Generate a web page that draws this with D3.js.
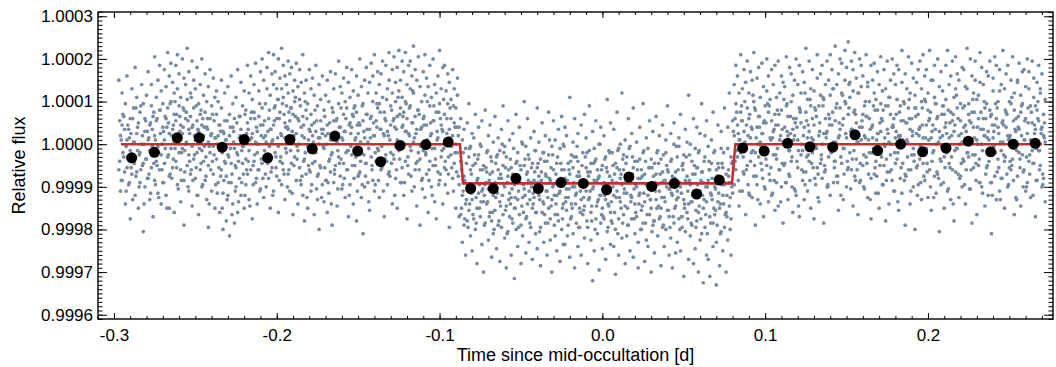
<!DOCTYPE html>
<html>
<head>
<meta charset="utf-8">
<script src="https://cdn.jsdelivr.net/npm/d3@7"></script>
<style>
  body { margin: 0; background: #fff; }
  svg text { font-family: "Liberation Sans", Arial, Helvetica, sans-serif; fill: #000; }
</style>
</head>
<body>
<div id="chart"></div>
<script>
// Tick labels
var xTicks = [-0.3, -0.2, -0.1, 0.0, 0.1, 0.2];
var yTicks = [0.9996, 0.9997, 0.9998, 0.9999, 1.0000, 1.0001, 1.0002, 1.0003];

// Binned light curve (time in days, relative flux)
var binTime = [-0.2891, -0.2752, -0.2611, -0.2476, -0.2335, -0.2200, -0.2056, -0.1919, -0.1782, -0.1643,
    -0.1503, -0.1362, -0.1243, -0.1084, -0.0947, -0.0809, -0.0670, -0.0531, -0.0394, -0.0254,
    -0.0117, 0.0026, 0.0163, 0.0303, 0.0442, 0.0579, 0.0718, 0.0862, 0.0994, 0.1138,
    0.1275, 0.1415, 0.1552, 0.1691, 0.1832, 0.1967, 0.2111, 0.2248, 0.2385, 0.2524, 0.2659];
var binFlux = [0.999968, 0.999981, 1.000015, 1.000015, 0.999993, 1.000011, 0.999968, 1.000011, 0.999989, 1.000019,
    0.999984, 0.999959, 0.999997, 0.999999, 1.000005, 0.999896, 0.999896, 0.999920, 0.999896, 0.999910,
    0.999908, 0.999893, 0.999923, 0.999901, 0.999908, 0.999883, 0.999916, 0.999991, 0.999984, 1.000002,
    0.999994, 0.999993, 1.000022, 0.999985, 1.000000, 0.999982, 0.999991, 1.000007, 0.999982, 1.000000, 1.000002];

// Occultation model (box with short ingress / egress)
var modelTime = [-0.2957, -0.0875, -0.0856, 0.0796, 0.0817, 0.2700];
var modelFlux = [1.0, 1.0, 0.999908, 0.999908, 1.0, 1.0];

// Unbinned photometry: each row = [time in 0.001 d, flux offsets in ppm ...]
var rawRows = [
[-297,150,-60],[-296,20,-110],[-295,120,45,-85],[-294,-30,65],[-293,95,-140],[-292,10,-55,160],[-291,-95,35],[-290,60,-15,-175],[-289,130,-70],[-288,-40,5,85],
[-287,180,-120],[-286,25,-65,110],[-285,-150,50],[-284,75,-20,-90],[-283,140,0],[-282,-45,95,-205],[-281,30,-100,60],[-280,115,-35],[-279,-80,170,10],[-278,45,-130,-15],
[-277,90,-55,140],[-276,-10,65,-170],[-275,205,-85,20],[-274,-40,110,55],[-273,150,-115,-5],[-272,80,-60,185],[-271,-25,125,-140],[-270,40,-90,95],[-269,175,10,-45],[-268,-120,60,135],
[-267,215,-30,85],[-266,25,-75,160,-150],[-265,100,-10,190],[-264,-55,145,35],[-263,70,-160,120,5],[-262,185,-40,55],[-261,130,-95,15,210],[-260,-20,90,165],[-259,45,-135,110,-60],[-258,200,25,-10],
[-257,80,155,-85,-190],[-256,140,0,60],[-255,-50,225,105],[-254,35,-110,170,-25],[-253,120,65,-70],[-252,-5,195,-145,40],[-251,150,85,-35],[-250,10,-80,130],[-249,180,-20,55,-120],[-248,95,-165,30],
[-247,-60,140,70],[-246,200,-15,-100,45],[-245,115,20,-40],[-244,-85,165,75],[-243,40,-130,100],[-242,135,-50,5,-195],[-241,60,175,-20],[-240,-110,90,25],[-239,155,-70,-5],[-238,15,110,-150],
[-237,-35,70,125],[-236,100,-90,20],[-235,-160,45,-15],[-234,85,-60,150],[-233,-115,30,-200],[-232,55,-40,120],[-231,-180,-75,10],[-230,135,-25,-120],[-229,20,-215,70],[-228,-90,160,-45],
[-227,40,-140,95],[-226,-185,-10,60],[-225,110,-55,-100],[-224,-25,175,-160],[-223,65,-80,15],[-222,145,-120,35],[-221,-45,90,-5],[-220,10,-150,125],[-219,80,-35,-95],[-218,185,50,-70],
[-217,-15,120,-130],[-216,60,-60,160],[-215,105,-175,25],[-214,-40,75,140],[-213,190,-90,5],[-212,30,-20,-140],[-211,125,65,-60],[-210,-105,170,45],[-209,85,-45,200],[-208,150,-125,15],
[-207,20,95,-70],[-206,180,-30,130],[-205,-80,60,215],[-204,115,-150,35],[-203,165,5,-55],[-202,45,140,-110,210],[-201,-20,90,170],[-200,130,-75,60],[-199,200,-5,105,-160],[-198,75,155,-40],
[-197,225,20,-95,130],[-196,110,-60,185],[-195,50,160,-130,15],[-194,140,-20,90],[-193,-70,195,35,120],[-192,165,-110,55],[-191,85,10,-45,180],[-190,125,-165,70],[-189,-30,150,100],[-188,190,25,-85],
[-187,60,-140,135,-15],[-186,105,175,-55],[-185,-95,40,145],[-184,210,65,-120],[-183,15,120,-35,-180],[-182,150,-70,80],[-181,-5,95,-150],[-180,175,35,-60],[-179,70,-110,130],[-178,-45,155,20],
[-177,115,-165,50],[-176,30,-20,185],[-175,-130,90,-75],[-174,140,0,-200],[-173,55,-55,105],[-172,-95,160,25],[-171,80,-135,-10],[-170,20,115,-85],[-169,-160,45,150],[-168,100,-40,-115],
[-167,170,10,-65],[-166,-20,85,-190],[-165,130,-90,55],[-164,-50,25,165],[-163,60,-145,5],[-162,195,-30,95],[-161,-75,135,40],[-160,15,-105,120],[-159,155,70,-45],[-158,-125,30,100],
[-157,85,-60,180],[-156,-15,145,-170],[-155,110,-95,50],[-154,40,175,-25],[-153,-140,65,125],[-152,90,-50,10],[-151,160,-180,75],[-150,25,115,-75],[-149,-65,200,45],[-148,135,-20,-125],
[-147,55,95,-210],[-146,-100,150,15],[-145,180,-45,70],[-144,5,120,-90],[-143,145,-155,35],[-142,65,190,-30],[-141,-85,100,160],[-140,210,20,-110],[-139,120,-40,55],[-138,-10,170,85],
[-137,95,-125,140],[-136,165,35,-60],[-135,-50,110,195],[-134,75,-170,20],[-133,185,55,-25],[-132,30,130,-95],[-131,150,-65,215],[-130,-20,90,45],[-129,120,-140,175],[-128,60,205,-35],
[-127,145,-80,100],[-126,10,180,65,-150],[-125,220,-15,125],[-124,85,150,-90],[-123,-55,195,40,110],[-122,170,-120,75],[-121,100,30,-40,215],[-120,140,-175,60],[-119,25,185,-70],[-118,195,90,-5,130],
[-117,-110,160,50],[-116,120,5,230],[-115,65,-60,175],[-114,150,-145,35],[-113,205,80,-20],[-112,-35,135,-190],[-111,100,40,-85],[-110,170,-15,60],[-109,-125,115,210],[-108,45,-70,155],
[-107,135,0,-160],[-106,-40,90,185],[-105,110,-100,25],[-104,200,55,-50],[-103,-10,140,-135],[-102,75,-175,120],[-101,160,15,-65],[-100,-85,95,220],[-99,130,-30,45],[-98,30,-140,180],
[-97,185,70,-55],[-96,-60,125,10],[-95,95,-115,165],[-94,145,35,-195],[-93,-25,105,60],[-92,175,-80,20],[-91,50,-45,130],[-90,-150,85,0],[-89,115,-20,155],[-88,40,-95,-170],
[-87,-40,-165,60],[-86,-120,10,-230],[-85,-75,-190,35],[-84,-10,-140,-260],[-83,-95,50,-180],[-82,-155,-30,95],[-81,-60,-215,-5],[-80,-130,25,-250],[-79,15,-100,-175],[-78,-200,-45,70],
[-77,-85,-150,-280],[-76,-25,-115,40],[-75,-170,0,-60],[-74,-110,-235,55],[-73,-50,-135,-300],[-72,80,-95,-185],[-71,-140,-20,-65],[-70,-225,-105,20],[-69,-70,45,-160],[-68,-180,-40,-265],
[-67,5,-120,-210],[-66,-90,65,-155],[-65,-245,-30,-110],[-64,-60,-190,15],[-63,-135,-275,-15],[-62,35,-80,-195],[-61,-165,-50,90],[-60,-100,-220,-5],[-59,-30,-145,-290],[-58,-205,-75,55],
[-57,-115,10,-170],[-56,-55,-260,-125],[-55,25,-185,-70],[-54,-150,-95,-315],[-53,-45,70,-200],[-52,-130,-240,-20],[-51,-80,40,-165],[-50,-190,-60,-280],[-49,0,-125,-215],[-48,-105,100,-50],
[-47,-175,-5,-255],[-46,-65,-140,60],[-45,-230,-35,-110],[-44,15,-90,-195],[-43,-150,-270,-45],[-42,-85,30,-125],[-41,-210,-15,-160],[-40,-55,-245,85],[-39,-120,-75,5],[-38,-195,-35,-285],
[-37,50,-100,-160],[-36,-140,-230,-20],[-35,-70,20,-185],[-34,-260,-110,-40],[-33,-25,-150,75],[-32,-175,-85,-225],[-31,-5,-130,-300],[-30,-95,55,-60],[-29,-215,-165,10],[-28,-45,-120,-250],
[-27,-180,35,-90],[-26,-110,-275,-10],[-25,-60,-200,65],[-24,-140,0,-235],[-23,-235,-80,40],[-22,20,-155,-105],[-21,-125,-45,-190],[-20,-70,-265,110],[-19,-170,-25,-140],[-18,5,-210,-55],
[-17,-100,60,-290],[-16,-185,-115,-30],[-15,-40,-240,25],[-14,-150,-75,-195],[-13,45,-130,-260],[-12,-90,-20,-165],[-11,-220,-145,70],[-10,-55,15,-110],[-9,-195,-280,-65],[-8,-15,-125,90],
[-7,-160,-45,-225],[-6,-105,30,-320],[-5,-250,-85,-10],[-4,-35,-175,55],[-3,-135,-60,-210],[-2,-75,-295,0],[-1,-185,40,-120],[0,-50,-150,-245],[1,20,-90,-175],[2,-130,-270,-30],
[3,-205,-65,105],[4,-15,-145,-100],[5,-160,50,-235],[6,-85,-20,-185],[7,-240,-120,35],[8,-45,-200,-305],[9,-110,75,-55],[10,-175,-10,-260],[11,0,-135,-80],[12,-220,-95,120],
[13,-60,-165,-25],[14,-145,10,-280],[15,-30,-215,-115],[16,-190,60,-70],[17,-90,-250,-5],[18,-125,25,-175],[19,-265,-55,85],[20,-40,-140,-210],[21,-170,5,-100],[22,-80,-230,-290],
[23,40,-115,-35],[24,-200,-60,-155],[25,-20,-185,95],[26,-135,-275,-70],[27,-95,15,-225],[28,-240,-120,-10],[29,-55,-165,55],[30,-150,-35,-300],[31,30,-105,-190],[32,-180,-255,-45],
[33,-70,65,-130],[34,-215,-15,-95],[35,-110,-175,20],[36,-35,-285,-150],[37,-195,45,-65],[38,-85,-125,-240],[39,10,-200,-20],[40,-155,-60,90],[41,-260,-105,-170],[42,-40,25,-220],
[43,-120,-290,-75],[44,-185,0,50],[45,-65,-145,-255],[46,-230,-30,-110],[47,15,-175,-5],[48,-100,-250,70],[49,-170,-50,-195],[50,-25,-130,-310],[51,-205,35,-85],[52,-75,-160,5],
[53,-140,-270,115],[54,0,-95,-215],[55,-190,-40,-135],[56,-115,60,-280],[57,-245,-10,-70],[58,-55,-180,40],[59,-160,-300,-20],[60,25,-110,-225],[61,-210,-65,95],[62,-90,-325,-150],
[63,-30,-195,20],[64,-135,55,-260],[65,-270,-85,-5],[66,-60,-170,-310],[67,10,-120,-45],[68,-185,-240,75],[69,-100,-15,-165],[70,-230,-60,-330],[71,-45,45,-135],[72,-150,-285,-80],
[73,30,-205,-10],[74,-120,-55,-250],[75,-195,85,-95],[76,-70,-160,-300],[77,-10,-225,40],[78,-145,-90,120],[79,-260,-30,-175],[80,55,-115,-40],
[81,20,140,-95],[82,95,-60,185],[83,-30,160,45],[84,120,-145,10],[85,210,-20,75],[86,55,130,-110],[87,-70,175,30],[88,145,-5,-165],[89,85,195,-50],[90,-115,60,120],
[91,170,-40,15],[92,35,-125,150],[93,100,215,-75],[94,-20,80,-190],[95,155,-95,40],[96,65,180,-30],[97,-140,110,5],[98,190,25,-60],[99,50,-170,135],[100,-10,90,-105],
[101,125,-50,200],[102,75,160,-135],[103,-85,15,105],[104,175,-120,55],[105,30,140,-25],[106,-155,70,185],[107,110,-35,-90],[108,45,195,-145],[109,-60,120,10],[110,160,-100,80],
[111,5,-185,145],[112,135,40,-45],[113,-90,205,90],[114,65,-130,20],[115,180,-15,-75],[116,-40,100,165],[117,115,-160,35],[118,20,150,-105],[119,-120,60,200],[120,140,-55,10],
[121,85,185,-170],[122,-25,120,50],[123,170,-85,-15],[124,40,145,-130],[125,-65,225,75],[126,105,-110,15],[127,195,30,-40],[128,-150,130,90],[129,60,-20,175],[130,125,-175,45],
[131,-5,80,-95],[132,155,210,-55],[133,90,-135,20],[134,-45,165,115],[135,185,0,-80],[136,25,105,-185],[137,140,-60,60],[138,-100,195,30],[139,70,-30,150],[140,210,115,-120],
[141,-15,175,45],[142,130,-90,5],[143,55,230,-40],[144,-75,140,95],[145,165,-155,15],[146,35,85,200],[147,190,-45,120],[148,-130,60,-10],[149,100,220,150],[150,15,-100,180],
[151,240,70,-55],[152,145,-20,110],[153,-60,195,35],[154,175,125,-145],[155,80,-75,215],[156,-35,155,50],[157,120,-165,5],[158,200,40,-90],[159,10,135,185],[160,160,-50,70],
[161,-105,90,20],[162,65,210,-30],[163,135,-125,145],[164,-20,60,100],[165,185,-80,-175],[166,45,150,15],[167,-70,120,190],[168,105,-40,-115],[169,170,25,80],[170,-150,140,-20],
[171,30,95,205],[172,125,-95,55],[173,-50,175,0],[174,90,-180,130],[175,195,35,-65],[176,5,110,-140],[177,150,-25,70],[178,-85,200,40],[179,60,-110,165],[180,140,15,-45],
[181,-35,185,105],[182,175,-155,20],[183,20,90,-80],[184,-115,145,220],[185,100,-5,55],[186,165,-70,-190],[187,50,130,10],[188,-60,205,85],[189,120,-140,35],[190,190,60,-25],
[191,-10,155,-100],[192,85,-200,115],[193,145,25,-55],[194,-95,175,70],[195,40,-35,195],[196,130,100,-130],[197,-45,210,15],[198,105,-85,160],[199,175,45,-10],[200,-125,120,80],
[201,60,-60,220],[202,15,150,-155],[203,150,-20,45],[204,-75,185,110],[205,95,-115,0],[206,200,65,-70],[207,30,135,-205],[208,-40,-95,170],[209,125,20,90],[210,70,-150,-30],
[211,185,105,50],[212,-15,220,-110],[213,140,-45,15],[214,-130,75,160],[215,55,195,-60],[216,110,-180,30],[217,-65,130,205],[218,165,-10,85],[219,20,150,-125],[220,95,-75,55],
[221,-100,180,5],[222,175,40,-40],[223,45,-140,135],[224,130,225,-20],[225,-30,95,70],[226,200,-105,10],[227,75,160,-185],[228,-55,120,40],[229,150,-25,195],[230,10,-165,105],
[231,115,60,-50],[232,-90,215,145],[233,180,0,-100],[234,35,140,60],[235,-145,85,20],[236,95,-55,170],[237,160,30,-120],[238,-20,195,80],[239,70,-90,-210],[240,125,155,15],
[241,-75,45,205],[242,185,-130,60],[243,40,100,-35],[244,-110,175,125],[245,140,-15,-80],[246,55,220,5],[247,-40,130,-150],[248,165,75,40],[249,20,-100,185],[250,100,15,-55],
[251,-60,150,95],[252,205,-35,0],[253,80,120,-165],[254,-125,60,30],[255,150,-75,145],[256,35,190,-20],[257,115,-145,75],[258,-25,95,170],[259,175,-60,10],[260,60,135,-110],
[261,-90,25,200],[262,130,170,-40],[263,10,-125,90],[264,195,50,-15],[265,-45,110,155],[266,90,-170,35],[267,145,80,-85],[268,-15,185,55],[269,120,-50,130],[270,40,165,-100],
[271,-80,20,70],[272,105,-135,5]
];

// Second set of exposures, taken half a cadence later (same units)
var rawRowsB = [
[-296.5,-40,55],[-295.5,10,-85],[-294.5,70,-20],[-293.5,-65,35],[-292.5,-5,-110],[-291.5,45,-30],[-290.5,-90,15],[-289.5,25,-55],[-288.5,-130,60],[-287.5,5,-45],
[-286.5,-75,85],[-285.5,40,-15],[-284.5,-25,-100],[-283.5,90,-60],[-282.5,-50,20],[-281.5,0,-140],[-280.5,55,-35],[-279.5,-80,30],[-278.5,15,-70],[-277.5,-115,50],
[-276.5,35,-5],[-275.5,-45,75],[-274.5,-95,10],[-273.5,60,-50],[-272.5,-20,-125],[-271.5,80,25],[-270.5,-60,0],[-269.5,30,-90],[-268.5,-10,65],[-267.5,-150,40],
[-266.5,50,-25],[-265.5,-70,95],[-264.5,20,-80],[-263.5,-35,45],[-262.5,100,-10],[-261.5,-55,70],[-260.5,10,-105],[-259.5,65,30],[-258.5,-85,-20],[-257.5,40,85],
[-256.5,-15,-65],[-255.5,75,5],[-254.5,-100,55],[-253.5,25,-40],[-252.5,-60,110],[-251.5,45,-85],[-250.5,-25,20],[-249.5,90,-55],[-248.5,-120,35],[-247.5,15,-10],
[-246.5,-45,80],[-245.5,60,-95],[-244.5,-5,40],[-243.5,-75,-30],[-242.5,35,60],[-241.5,-140,-5],[-240.5,20,-60],[-239.5,-40,70],[-238.5,55,-25],[-237.5,-95,15],
[-236.5,0,-115],[-235.5,-55,45],[-234.5,30,-75],[-233.5,-20,-150],[-232.5,-85,25],[-231.5,10,-45],[-230.5,-130,55],[-229.5,-30,-90],[-228.5,40,-10],[-227.5,-70,-165],
[-226.5,5,30],[-225.5,-110,-50],[-224.5,50,-20],[-223.5,-40,-135],[-222.5,20,65],[-221.5,-90,-15],[-220.5,-5,-70],[-219.5,70,-120],[-218.5,-60,25],[-217.5,35,-40],
[-216.5,-145,10],[-215.5,15,75],[-214.5,-50,-95],[-213.5,60,-25],[-212.5,-80,40],[-211.5,0,-60],[-210.5,95,-110],[-209.5,-35,20],[-208.5,45,-80],[-207.5,-15,55],
[-206.5,-100,5],[-205.5,30,-45],[-204.5,80,-5],[-203.5,-65,35],[-202.5,10,-120],[-201.5,55,85],[-200.5,-30,-55],[-199.5,105,15],[-198.5,-85,60],[-197.5,25,-30],
[-196.5,-45,95],[-195.5,70,-70],[-194.5,-10,40],[-193.5,40,-100],[-192.5,-60,75],[-191.5,85,-15],[-190.5,-115,30],[-189.5,20,-50],[-188.5,65,110],[-187.5,-35,-5],
[-186.5,0,55],[-185.5,90,-85],[-184.5,-75,20],[-183.5,45,-40],[-182.5,-20,100],[-181.5,60,-125],[-180.5,-50,10],[-179.5,30,-65],[-178.5,-95,45],[-177.5,5,-20],
[-176.5,-40,80],[-175.5,55,-105],[-174.5,-70,15],[-173.5,15,-50],[-172.5,-125,35],[-171.5,35,-5],[-170.5,-55,65],[-169.5,0,-85],[-168.5,-90,25],[-167.5,50,-35],
[-166.5,-25,-140],[-165.5,75,10],[-164.5,-60,-70],[-163.5,20,55],[-162.5,-105,-15],[-161.5,40,-45],[-160.5,-35,85],[-159.5,10,-95],[-158.5,-80,30],[-157.5,60,-20],
[-156.5,-15,-60],[-155.5,-120,45],[-154.5,25,-5],[-153.5,-50,70],[-152.5,85,-80],[-151.5,-30,15],[-150.5,45,-110],[-149.5,-70,50],[-148.5,5,-40],[-147.5,-95,90],
[-146.5,30,-25],[-145.5,-45,-75],[-144.5,70,35],[-143.5,-135,-10],[-142.5,15,60],[-141.5,-60,-50],[-140.5,50,20],[-139.5,-20,-95],[-138.5,95,40],[-137.5,-85,-15],
[-136.5,35,75],[-135.5,-5,-55],[-134.5,-110,25],[-133.5,60,-35],[-132.5,-40,105],[-131.5,20,-70],[-130.5,-75,10],[-129.5,80,-45],[-128.5,-25,55],[-127.5,40,-120],
[-126.5,-60,35],[-125.5,110,-5],[-124.5,-35,70],[-123.5,5,-90],[-122.5,65,45],[-121.5,-90,0],[-120.5,30,95],[-119.5,-50,-30],[-118.5,85,20],[-117.5,-15,-75],
[-116.5,50,125],[-115.5,-100,15],[-114.5,25,-45],[-113.5,-40,80],[-112.5,70,-60],[-111.5,-5,35],[-110.5,-80,-105],[-109.5,45,65],[-108.5,-25,-20],[-107.5,100,10],
[-106.5,-60,-85],[-105.5,20,50],[-104.5,-120,-10],[-103.5,55,90],[-102.5,-35,-50],[-101.5,10,30],[-100.5,75,-95],[-99.5,-70,60],[-98.5,35,-15],[-97.5,-10,105],
[-96.5,-95,-40],[-95.5,60,25],[-94.5,-30,-70],[-93.5,15,85],[-92.5,-55,-5],[-91.5,90,-110],[-90.5,-20,40],[-89.5,40,-65],[-88.5,-75,20],
[-86.5,-60,-150],[-85.5,-110,-20],[-84.5,-175,-85],[-83.5,-45,-130],[-82.5,-95,-195],[-81.5,-140,-10],[-80.5,-70,-115],[-79.5,-165,-50],[-78.5,-25,-100],[-77.5,-125,-185],
[-76.5,-80,-35],[-75.5,-150,-95],[-74.5,-5,-135],[-73.5,-105,-60],[-72.5,-190,-120],[-71.5,-55,-90],[-70.5,-135,-15],[-69.5,-85,-170],[-68.5,-30,-110],[-67.5,-160,-65],
[-66.5,-100,-200],[-65.5,-45,-125],[-64.5,-115,-25],[-63.5,-180,-80],[-62.5,-70,-145],[-61.5,-120,0],[-60.5,-20,-95],[-59.5,-155,-55],[-58.5,-90,-210],[-57.5,-60,-130],
[-56.5,-140,-35],[-55.5,-105,-175],[-54.5,-10,-80],[-53.5,-125,-150],[-52.5,-75,-40],[-51.5,-195,-110],[-50.5,-50,-90],[-49.5,-145,5],[-48.5,-95,-160],[-47.5,-35,-120],
[-46.5,-170,-70],[-45.5,-85,-25],[-44.5,-130,-185],[-43.5,-55,-100],[-42.5,-115,-140],[-41.5,-15,-65],[-40.5,-160,-110],[-39.5,-90,-45],[-38.5,-205,-130],[-37.5,-65,-85],
[-36.5,-135,-20],[-35.5,-40,-165],[-34.5,-110,-75],[-33.5,-185,-125],[-32.5,-80,10],[-31.5,-145,-55],[-30.5,-25,-100],[-29.5,-120,-190],[-28.5,-70,-140],[-27.5,-165,-30],
[-26.5,-95,-115],[-25.5,-45,-80],[-24.5,-150,-175],[-23.5,-5,-60],[-22.5,-125,-135],[-21.5,-85,-215],[-20.5,-60,-105],[-19.5,-175,-40],[-18.5,-100,-150],[-17.5,-30,-90],
[-16.5,-140,-120],[-15.5,-75,-5],[-14.5,-195,-65],[-13.5,-110,-160],[-12.5,-50,-95],[-11.5,-155,-125],[-10.5,-90,-30],[-9.5,-20,-180],[-8.5,-130,-75],[-7.5,-65,-110],
[-6.5,-180,-145],[-5.5,-100,-45],[-4.5,-40,-200],[-3.5,-145,-85],[-2.5,-80,-130],[-1.5,-120,0],[-0.5,-60,-165],[0.5,-170,-95],[1.5,-35,-120],[2.5,-110,-55],
[3.5,-195,-140],[4.5,-75,-20],[5.5,-135,-180],[6.5,-50,-100],[7.5,-160,-70],[8.5,-90,-125],[9.5,-15,-210],[10.5,-125,-60],[11.5,-70,-150],[12.5,-185,-35],
[13.5,-105,-115],[14.5,-45,-85],[15.5,-150,-190],[16.5,-85,-10],[17.5,-120,-135],[18.5,-30,-70],[19.5,-175,-105],[20.5,-95,-160],[21.5,-60,-40],[22.5,-140,-120],
[23.5,-200,-80],[24.5,-75,-145],[25.5,-115,-15],[26.5,-40,-185],[27.5,-165,-95],[28.5,-100,-55],[29.5,-130,-130],[30.5,-55,-205],[31.5,-180,-75],[32.5,-90,-110],
[33.5,-20,-150],[34.5,-145,-45],[35.5,-70,-170],[36.5,-125,-90],[37.5,-190,-25],[38.5,-85,-135],[39.5,-50,-100],[40.5,-155,-65],[41.5,-105,-195],[42.5,-35,-115],
[43.5,-170,-80],[44.5,-80,-150],[45.5,-130,-5],[46.5,-60,-125],[47.5,-200,-90],[48.5,-115,-170],[49.5,-45,-60],[50.5,-150,-140],[51.5,-90,-30],[52.5,-175,-110],
[53.5,-25,-85],[54.5,-135,-185],[55.5,-70,-120],[56.5,-110,-50],[57.5,-195,-155],[58.5,-55,-95],[59.5,-145,-15],[60.5,-85,-175],[61.5,-120,-65],[62.5,-40,-130],
[63.5,-165,-100],[64.5,-100,-210],[65.5,-60,-40],[66.5,-185,-115],[67.5,-130,-80],[68.5,-20,-150],[69.5,-155,-105],[70.5,-75,-190],[71.5,-115,-55],[72.5,-210,-140],
[73.5,-45,-95],[74.5,-140,-20],[75.5,-90,-165],[76.5,-170,-120],[77.5,-60,-75],[78.5,-125,-200],[79.5,-100,-45],
[80.5,30,-55],[81.5,-40,60],[82.5,75,-15],[83.5,-85,25],[84.5,10,-110],[85.5,55,90],[86.5,-30,-65],[87.5,100,5],[88.5,-60,45],[89.5,20,-95],
[90.5,-120,70],[91.5,40,-20],[92.5,-15,115],[93.5,85,-50],[94.5,-75,15],[95.5,0,-130],[96.5,65,40],[97.5,-45,-5],[98.5,25,-80],[99.5,-100,55],
[100.5,50,-35],[101.5,-20,95],[102.5,90,-70],[103.5,-55,10],[104.5,15,-115],[105.5,-85,35],[106.5,45,-25],[107.5,-10,80],[108.5,70,-60],[109.5,-135,20],
[110.5,35,-45],[111.5,-50,105],[112.5,5,-90],[113.5,95,30],[114.5,-70,-15],[115.5,25,65],[116.5,-30,-100],[117.5,60,10],[118.5,-110,50],[119.5,40,-40],
[120.5,-15,-145],[121.5,80,75],[122.5,-60,0],[123.5,20,-65],[124.5,-95,120],[125.5,55,-30],[126.5,-25,45],[127.5,105,-85],[128.5,-45,15],[129.5,10,-55],
[130.5,-80,85],[131.5,65,-10],[132.5,-125,-70],[133.5,30,50],[134.5,-35,-25],[135.5,90,110],[136.5,-65,-50],[137.5,15,25],[138.5,-100,-95],[139.5,45,60],
[140.5,-20,-5],[141.5,75,130],[142.5,-55,-40],[143.5,5,85],[144.5,-90,-75],[145.5,50,20],[146.5,-30,-120],[147.5,115,45],[148.5,-70,-10],[149.5,25,95],
[150.5,-40,-60],[151.5,85,140],[152.5,-105,30],[153.5,35,-35],[154.5,-15,75],[155.5,70,-85],[156.5,-60,5],[157.5,20,120],[158.5,-85,-45],[159.5,55,40],
[160.5,-25,-100],[161.5,100,15],[162.5,-45,65],[163.5,10,-70],[164.5,-130,35],[165.5,40,-20],[166.5,-10,90],[167.5,80,-55],[168.5,-75,10],[169.5,25,-115],
[170.5,-50,50],[171.5,60,-30],[172.5,-95,80],[173.5,15,-5],[174.5,-35,-85],[175.5,90,25],[176.5,-65,110],[177.5,0,-60],[178.5,45,40],[179.5,-110,-20],
[180.5,30,70],[181.5,-20,-135],[182.5,75,15],[183.5,-55,55],[184.5,10,-45],[185.5,-85,95],[186.5,50,-75],[187.5,-30,5],[188.5,105,60],[189.5,-60,-110],
[190.5,20,30],[191.5,-40,-25],[192.5,65,85],[193.5,-120,-50],[194.5,35,20],[195.5,-5,-90],[196.5,85,45],[197.5,-75,-15],[198.5,15,100],[199.5,-45,-65],
[200.5,55,10],[201.5,-100,75],[202.5,30,-40],[203.5,-15,-125],[204.5,95,35],[205.5,-65,60],[206.5,5,-80],[207.5,-35,15],[208.5,70,-5],[209.5,-90,90],
[210.5,40,-55],[211.5,-20,25],[212.5,80,-105],[213.5,-55,50],[214.5,20,-30],[215.5,-140,70],[216.5,45,-15],[217.5,-10,115],[218.5,60,-70],[219.5,-80,0],
[220.5,25,-45],[221.5,-35,85],[222.5,90,-95],[223.5,-60,30],[224.5,10,-20],[225.5,-105,55],[226.5,50,-60],[227.5,-25,105],[228.5,75,15],[229.5,-45,-85],
[230.5,0,40],[231.5,-90,-35],[232.5,35,75],[233.5,-15,-115],[234.5,100,20],[235.5,-70,60],[236.5,15,-50],[237.5,-40,10],[238.5,65,-90],[239.5,-120,45],
[240.5,30,-5],[241.5,-20,95],[242.5,85,-65],[243.5,-55,25],[244.5,5,-130],[245.5,-80,50],[246.5,45,-25],[247.5,-30,80],[248.5,70,-70],[249.5,-95,10],
[250.5,20,-40],[251.5,-50,110],[252.5,55,-85],[253.5,-10,35],[254.5,-130,-15],[255.5,40,65],[256.5,-35,-55],[257.5,90,20],[258.5,-65,-100],[259.5,10,55],
[260.5,-100,-30],[261.5,50,85],[262.5,-25,-70],[263.5,75,5],[264.5,-45,-120],[265.5,25,45],[266.5,-85,-10],[267.5,60,100],[268.5,-15,-60],[269.5,35,25],
[270.5,-70,-95],[271.5,15,50]
];

// Layout
var width = 1056, height = 367;
var plot = { left: 98, right: 1053, top: 12, bottom: 319 };

var svg = d3.select("#chart")
    .append("svg")
    .attr("width", width)
    .attr("height", height);

var x = d3.scaleLinear().domain([-0.3098, 0.2768]).range([plot.left, plot.right]);
var y = d3.scaleLinear().domain([0.99959, 1.00031]).range([plot.bottom, plot.top]);

// Flatten raw rows into points
var rawPoints = [];
rawRows.concat(rawRowsB).forEach(function (row) {
    for (var i = 1; i < row.length; i++) {
        rawPoints.push({ t: row[0] / 1000, f: 1 + row[i] / 1e6 });
    }
});

svg.append("clipPath").attr("id", "clip")
    .append("rect")
    .attr("x", plot.left).attr("y", plot.top)
    .attr("width", plot.right - plot.left).attr("height", plot.bottom - plot.top);

var inner = svg.append("g").attr("clip-path", "url(#clip)");

inner.selectAll(".raw")
    .data(rawPoints)
    .enter()
    .append("circle")
    .attr("class", "raw")
    .attr("cx", function (d) { return x(d.t); })
    .attr("cy", function (d) { return y(d.f); })
    .attr("r", 1.85)
    .attr("fill", "#788a9d");

var model = modelTime.map(function (t, i) { return [t, modelFlux[i]]; });
inner.append("path")
    .datum(model)
    .attr("fill", "none")
    .attr("stroke", "#c4302f")
    .attr("stroke-width", 2.6)
    .attr("d", d3.line().x(function (d) { return x(d[0]); }).y(function (d) { return y(d[1]); }));

inner.selectAll(".bin")
    .data(binTime)
    .enter()
    .append("circle")
    .attr("class", "bin")
    .attr("cx", function (d) { return x(d); })
    .attr("cy", function (d, i) { return y(binFlux[i]); })
    .attr("r", 5.5)
    .attr("fill", "#000");

// Axes: ticks on all four sides, pointing inward
var xMinor = d3.range(-31, 28).map(function (v) { return v / 100; });
var yMinor = d3.range(99959, 100032).map(function (v) { return v / 100000; });

function drawAxis(axis, tx, ty) {
    var g = svg.append("g")
        .attr("transform", "translate(" + tx + "," + ty + ")")
        .call(axis);
    g.select(".domain").remove();
    g.selectAll("line").attr("stroke", "#000").attr("stroke-width", 1);
    return g;
}

var fmtX = function (d) { return d.toFixed(1); };
var fmtY = function (d) { return d.toFixed(4); };

// bottom
drawAxis(d3.axisBottom(x).tickValues(xMinor).tickSize(-3).tickFormat(""), 0, plot.bottom);
drawAxis(d3.axisBottom(x).tickValues(xTicks).tickSize(-6).tickPadding(10).tickFormat(fmtX), 0, plot.bottom)
    .selectAll("text").attr("font-size", 17);
// top
drawAxis(d3.axisTop(x).tickValues(xMinor).tickSize(-3).tickFormat(""), 0, plot.top);
drawAxis(d3.axisTop(x).tickValues(xTicks).tickSize(-6).tickFormat(""), 0, plot.top);
// left
drawAxis(d3.axisLeft(y).tickValues(yMinor).tickSize(-4.5).tickFormat(""), plot.left, 0);
drawAxis(d3.axisLeft(y).tickValues(yTicks).tickSize(-9).tickPadding(5).tickFormat(fmtY), plot.left, 0)
    .selectAll("text").attr("font-size", 17);
// right
drawAxis(d3.axisRight(y).tickValues(yMinor).tickSize(-4.5).tickFormat(""), plot.right, 0);
drawAxis(d3.axisRight(y).tickValues(yTicks).tickSize(-9).tickFormat(""), plot.right, 0);

svg.selectAll(".tick text").attr("font-family", "'Liberation Sans', Arial, sans-serif").attr("fill", "#000");

// frame
svg.append("rect")
    .attr("x", plot.left).attr("y", plot.top)
    .attr("width", plot.right - plot.left).attr("height", plot.bottom - plot.top)
    .attr("fill", "none")
    .attr("stroke", "#000")
    .attr("stroke-width", 1.4);

// axis titles
svg.append("text")
    .attr("x", (plot.left + plot.right) / 2)
    .attr("y", 361)
    .attr("text-anchor", "middle")
    .attr("font-size", 18)
    .text("Time since mid-occultation [d]");

svg.append("text")
    .attr("transform", "translate(25," + (plot.top + plot.bottom) / 2 + ")rotate(-90)")
    .attr("text-anchor", "middle")
    .attr("font-size", 18)
    .text("Relative flux");
</script>
</body>
</html>
